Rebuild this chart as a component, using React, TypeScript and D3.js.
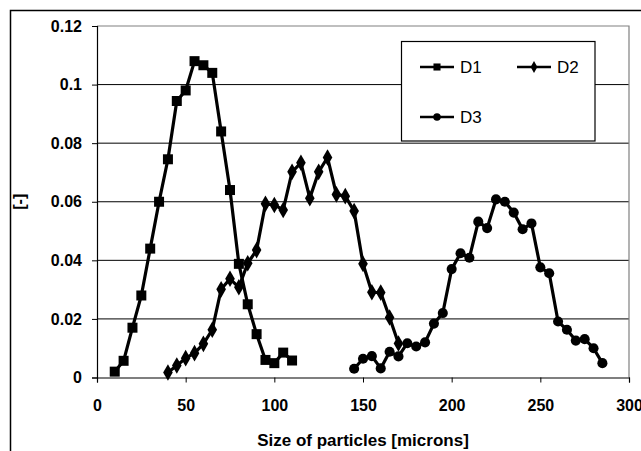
import React, { useRef, useEffect } from 'react';
import * as d3 from 'd3';

const d1X = [10, 15, 20, 25, 30, 35, 40, 45, 50, 55, 60, 65, 70, 75, 80, 85, 90, 95, 100, 105, 110];
const d1Y = [0.002, 0.0057, 0.017, 0.028, 0.044, 0.060, 0.0745, 0.0944, 0.098, 0.108, 0.1066, 0.104, 0.084, 0.064, 0.0388, 0.025, 0.0148, 0.006, 0.0049, 0.0085, 0.0058];

const d2X = [40, 45, 50, 55, 60, 65, 70, 75, 80, 85, 90, 95, 100, 105, 110, 115, 120, 125, 130, 135, 140, 145, 150, 155, 160, 165, 170];
const d2Y = [0.0017, 0.0041, 0.0066, 0.0083, 0.0115, 0.0163, 0.0301, 0.0337, 0.0308, 0.039, 0.0435, 0.0593, 0.0589, 0.0572, 0.0702, 0.0733, 0.0612, 0.0702, 0.0751, 0.0625, 0.0619, 0.0568, 0.0388, 0.0291, 0.029, 0.0205, 0.0116];

const d3X = [145, 150, 155, 160, 165, 170, 175, 180, 185, 190, 195, 200, 205, 210, 215, 220, 225, 230, 235, 240, 245, 250, 255, 260, 265, 270, 275, 280, 285];
const d3Y = [0.003, 0.0064, 0.0073, 0.0031, 0.0088, 0.0072, 0.0117, 0.0106, 0.012, 0.0184, 0.022, 0.037, 0.0424, 0.0409, 0.0532, 0.051, 0.0608, 0.060, 0.0563, 0.0506, 0.0526, 0.0376, 0.0356, 0.0191, 0.0163, 0.0126, 0.0131, 0.010, 0.0049];

const xTicks = [0, 50, 100, 150, 200, 250, 300];
const yTicks = [0, 0.02, 0.04, 0.06, 0.08, 0.1, 0.12];
const yTickLabels = ['0', '0.02', '0.04', '0.06', '0.08', '0.1', '0.12'];

const seriesNames = ['D1', 'D2', 'D3'];

const App: React.FC = () => {
  const chartRef = useRef(null);

  useEffect(() => {
    d3.select(chartRef.current).select('svg').remove();

    const width = 641;
    const height = 451;
    const plot = { left: 97, right: 629, top: 26, bottom: 377.5 };
    const font = 'Liberation Sans, Arial, sans-serif';

    const svg = d3.select(chartRef.current)
      .append('svg')
      .attr('width', width)
      .attr('height', height)
      .style('position', 'absolute')
      .style('left', '0px')
      .style('top', '0px')
      .style('background', 'white');

    // outer chart frame (runs past the image on right and bottom)
    svg.append('rect')
      .attr('x', 10.5)
      .attr('y', 10.5)
      .attr('width', 700)
      .attr('height', 500)
      .attr('fill', 'white')
      .attr('stroke', '#000')
      .attr('stroke-width', 1.5);

    const x = d3.scaleLinear().domain([0, 300]).range([plot.left, plot.right]);
    const y = d3.scaleLinear().domain([0, 0.12]).range([plot.bottom, plot.top]);

    // gridlines
    svg.selectAll('.grid')
      .data(yTicks.slice(1, -1))
      .enter().append('line')
      .attr('x1', plot.left)
      .attr('x2', plot.right)
      .attr('y1', d => y(d))
      .attr('y2', d => y(d))
      .attr('stroke', '#000')
      .attr('stroke-width', 1);

    // plot border top/right (gray)
    svg.append('path')
      .attr('d', `M${plot.left},${plot.top}H${plot.right}V${plot.bottom}`)
      .attr('fill', 'none')
      .attr('stroke', '#808080')
      .attr('stroke-width', 1.2);

    // axes
    const xAxis = d3.axisBottom(x).tickValues(xTicks).tickSize(5).tickFormat(d => String(d));
    const gx = svg.append('g').attr('transform', `translate(0,${plot.bottom})`).call(xAxis);
    gx.select('.domain').attr('stroke', '#000').attr('stroke-width', 1.2);
    gx.selectAll('.tick line').attr('stroke', '#000');
    gx.selectAll('.tick text')
      .attr('dy', '0')
      .attr('y', 33)
      .style('font-family', font)
      .style('font-size', '16px')
      .style('font-weight', 'bold')
      .attr('fill', '#000');

    const yAxis = d3.axisLeft(y).tickValues(yTicks).tickSize(5).tickFormat((d, i) => yTickLabels[i]);
    const gy = svg.append('g').attr('transform', `translate(${plot.left},0)`).call(yAxis);
    gy.select('.domain').attr('stroke', '#000').attr('stroke-width', 1.2);
    gy.selectAll('.tick line').attr('stroke', '#000');
    gy.selectAll('.tick text')
      .attr('x', -15)
      .style('font-family', font)
      .style('font-size', '16px')
      .style('font-weight', 'bold')
      .attr('fill', '#000');

    svg.append('text')
      .attr('x', (plot.left + plot.right) / 2)
      .attr('y', 446)
      .attr('text-anchor', 'middle')
      .style('font-family', font)
      .style('font-size', '17px')
      .style('font-weight', 'bold')
      .text('Size of particles [microns]');

    svg.append('text')
      .attr('transform', `translate(25,${(plot.top + plot.bottom) / 2}) rotate(-90)`)
      .attr('text-anchor', 'middle')
      .style('font-family', font)
      .style('font-size', '16px')
      .style('font-weight', 'bold')
      .text('[-]');

    const series = [
      { name: seriesNames[0], xs: d1X, ys: d1Y, shape: d3.symbolSquare, size: 100, legendSize: 50 },
      { name: seriesNames[1], xs: d2X, ys: d2Y, shape: d3.symbolDiamond, size: 80, legendSize: 40 },
      { name: seriesNames[2], xs: d3X, ys: d3Y, shape: d3.symbolCircle, size: 80, legendSize: 44 },
    ];

    const line = d3.line<[number, number]>().x(d => x(d[0])).y(d => y(d[1]));

    series.forEach(s => {
      const pts: [number, number][] = s.xs.map((v, i) => [v, s.ys[i]]);
      svg.append('path')
        .datum(pts)
        .attr('d', line)
        .attr('fill', 'none')
        .attr('stroke', '#000')
        .attr('stroke-width', 3.2)
        .attr('stroke-linejoin', 'round');
      svg.selectAll(null)
        .data(pts)
        .enter().append('path')
        .attr('d', d3.symbol().type(s.shape).size(s.size)())
        .attr('transform', d => `translate(${x(d[0])},${y(d[1])})`)
        .attr('fill', '#000');
    });

    // legend
    const lg = svg.append('g');
    lg.append('rect')
      .attr('x', 401.5)
      .attr('y', 41.5)
      .attr('width', 193.5)
      .attr('height', 99.5)
      .attr('fill', 'white')
      .attr('stroke', '#000')
      .attr('stroke-width', 1.2);

    const legendPos = [[420, 67], [517, 67], [420, 117]];
    series.forEach((s, i) => {
      const [lx, ly] = legendPos[i];
      lg.append('line')
        .attr('x1', lx).attr('x2', lx + 34)
        .attr('y1', ly).attr('y2', ly)
        .attr('stroke', '#000')
        .attr('stroke-width', 2.5);
      lg.append('path')
        .attr('d', d3.symbol().type(s.shape).size(s.legendSize)())
        .attr('transform', `translate(${lx + 17},${ly})`)
        .attr('fill', '#000');
      lg.append('text')
        .attr('x', lx + 40)
        .attr('y', ly + 6)
        .style('font-family', font)
        .style('font-size', '17px')
        .text(s.name);
    });
  }, []);

  return (
    <div ref={chartRef} />
  );
};

export default App;
